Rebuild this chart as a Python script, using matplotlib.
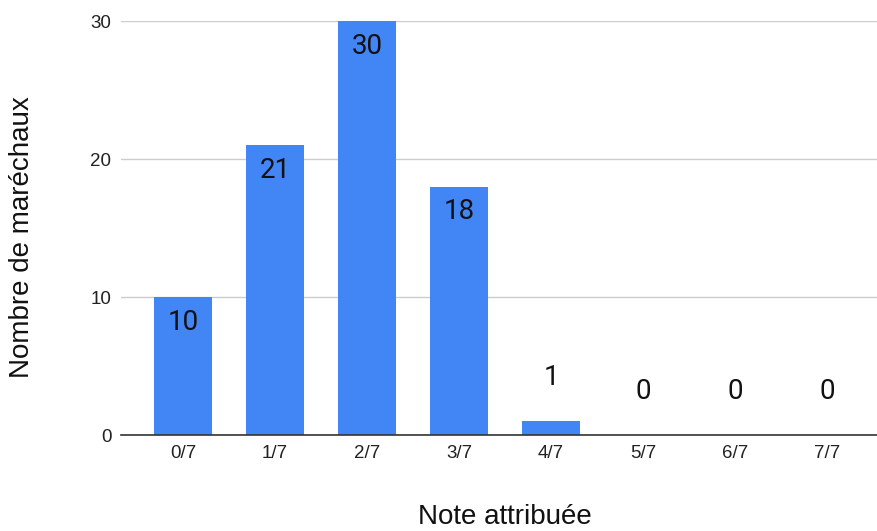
import matplotlib.pyplot as plt

notes = ["0/7", "1/7", "2/7", "3/7", "4/7", "5/7", "6/7", "7/7"]
counts = [10, 21, 30, 18, 1, 0, 0, 0]
y_ticks = [0, 10, 20, 30]

fig = plt.figure(figsize=(8.78, 5.31), dpi=100)
ax = fig.add_axes([121 / 878, 96 / 531, 757 / 878, 414 / 531])

x = list(range(len(notes)))
ax.bar(x, counts, width=0.64, color="#4285F4", zorder=3)

# data labels: inside the bar when tall enough, above otherwise
for xi, v in zip(x, counts):
    if v >= 5:
        ax.annotate(str(v), (xi, v), xytext=(0, -18), textcoords="offset points",
                    ha="center", va="center", fontsize=20, family="Roboto",
                    color="#111111", zorder=4)
    else:
        ax.annotate(str(v), (xi, v), xytext=(0, 31.5), textcoords="offset points",
                    ha="center", va="center", fontsize=20, family="Roboto",
                    color="#111111", zorder=4)

ax.set_xlim(-0.674, 7.554)
ax.set_ylim(0, 30)
ax.set_xticks(x)
ax.set_xticklabels(notes)
ax.set_yticks(y_ticks)
ax.tick_params(length=0, labelsize=13.5, colors="#222222", pad=7)
for lab in ax.get_xticklabels() + ax.get_yticklabels():
    lab.set_family("Liberation Sans")

ax.grid(axis="y", color="#cccccc", linewidth=1, zorder=0)
for s in ["top", "right", "left"]:
    ax.spines[s].set_visible(False)
ax.spines["bottom"].set_color("#333333")
ax.spines["bottom"].set_linewidth(1.2)
ax.spines["bottom"].set_zorder(5)

fig.text(505 / 878, 1 - 517 / 531, "Note attribuée", ha="center", va="center",
         fontsize=20, family="Liberation Sans", color="#111111")
fig.text(22 / 878, 1 - 237 / 531, "Nombre de maréchaux", ha="center", va="center",
         rotation=90, fontsize=20, family="Liberation Sans", color="#111111")

fig.savefig("out.png", dpi=100)
